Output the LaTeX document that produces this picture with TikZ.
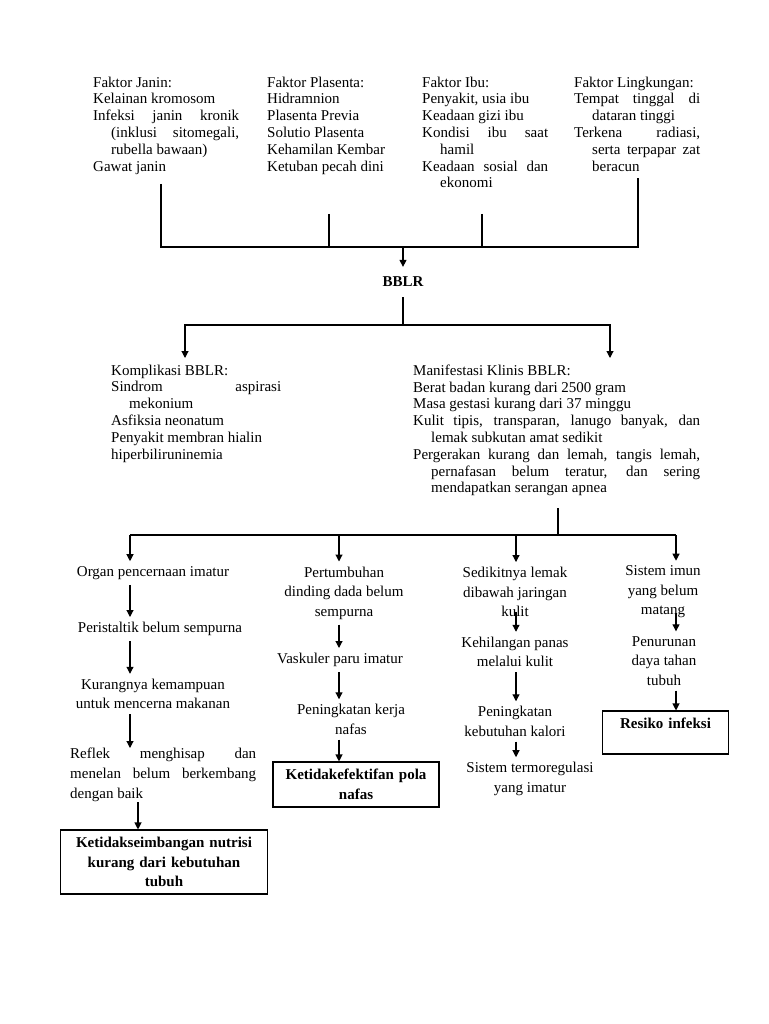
\documentclass[tikz,border=0pt]{standalone}
\usepackage{fontspec}
\setmainfont{Liberation Serif}
\usetikzlibrary{arrows.meta}
\setlength{\parindent}{0pt}
\hbadness=10000
\newcommand{\butir}[1]{\par\hangindent=18pt\hangafter=1 #1\par}

\begin{document}
\begin{tikzpicture}[x=1pt,y=-1pt,
    garis/.style={line width=1.1pt},
    panah/.style={line width=1.1pt,-{Triangle[length=7pt,width=7pt]}},
    blok/.style={anchor=north west,inner sep=0pt,text width=#1,align=justify,
      font=\fontsize{15}{16.8}\selectfont},
    teks/.style={align=center,inner xsep=2pt,inner ysep=5pt,
      font=\fontsize{15}{19.5}\selectfont},
    kotak/.style={draw,line width=1.1pt,align=center,inner sep=3pt,text width=#1,
      font=\fontsize{15}{19.5}\selectfont\bfseries}]
\useasboundingbox (0,0) rectangle (768,1024);

% faktor penyebab
\node[blok=146pt] (janin) at (93,76.5) {Faktor Janin:\butir{Kelainan kromosom}\butir{Infeksi janin kronik\linebreak (inklusi sitomegali,\linebreak rubella bawaan)}\butir{Gawat janin}};
\node[blok=125pt] (plasenta) at (267,76.5) {Faktor Plasenta:\butir{Hidramnion}\butir{Plasenta Previa}\butir{Solutio Plasenta}\butir{Kehamilan Kembar}\butir{Ketuban pecah dini}};
\node[blok=126pt] (ibu) at (422,76.5) {Faktor Ibu:\butir{Penyakit, usia ibu}\butir{Keadaan gizi ibu}\butir{Kondisi ibu saat\linebreak hamil}\butir{Keadaan sosial dan\linebreak ekonomi}};
\node[blok=126pt] (lingkungan) at (574,76.5) {Faktor Lingkungan:\butir{Tempat tinggal di\linebreak dataran tinggi}\butir{Terkena radiasi,\linebreak serta terpapar zat\linebreak beracun}};

\node[font=\fontsize{15}{18}\selectfont\bfseries,inner ysep=10pt] (bblr) at (403,282) {BBLR};

% komplikasi dan manifestasi
\node[blok=170pt] (komplikasi) at (111,364.5) {Komplikasi BBLR:\butir{Sindrom aspirasi\linebreak mekonium}\butir{Asfiksia neonatum}\butir{Penyakit membran hialin}\butir{hiperbiliruninemia}};
\node[blok=287pt] (manifestasi) at (413,364.5) {Manifestasi Klinis BBLR:\butir{Berat badan kurang dari 2500 gram}\butir{Masa gestasi kurang dari 37 minggu}\butir{Kulit tipis, transparan, lanugo banyak, dan\linebreak lemak subkutan amat sedikit}\butir{Pergerakan kurang dan lemah, tangis lemah,\linebreak pernafasan belum teratur, dan sering\linebreak mendapatkan serangan apnea}};

% kolom 1
\node[teks] (organ) at (153,573) {Organ pencernaan imatur};
\node[teks] (peristaltik) at (160,629) {Peristaltik belum sempurna};
\node[teks] (kurang) at (153,694) {Kurangnya kemampuan\\untuk mencerna makanan};
\node[blok=186pt,font=\fontsize{15}{20}\selectfont] (reflek) at (70,748) {Reflek menghisap dan\linebreak menelan belum berkembang\linebreak dengan baik};
\node[kotak=201pt,minimum height=64pt] (nutrisi) at (164,862) {Ketidakseimbangan nutrisi\\kurang dari kebutuhan\\tubuh};

% kolom 2
\node[teks] (tumbuh) at (344,593) {Pertumbuhan\\dinding dada belum\\sempurna};
\node[teks] (vaskuler) at (340,660) {Vaskuler paru imatur};
\node[teks] (kerja) at (351,719.5) {Peningkatan kerja\\nafas};
\node[kotak=160pt,minimum height=45pt] (pola) at (356,784.5) {Ketidakefektifan pola\\nafas};

% kolom 3
\node[teks] (lemak) at (515,592) {Sedikitnya lemak\\dibawah jaringan\\kulit};
\node[teks] (panas) at (515,652) {Kehilangan panas\\melalui kulit};
\node[teks] (kalori) at (515,721.5) {Peningkatan\\kebutuhan kalori};
\node[teks] (termo) at (530,779) {Sistem termoregulasi\\yang imatur};

% kolom 4
\node[teks] (imun) at (663,592) {Sistem imun\\yang belum\\matang};
\node[teks] (tahan) at (664,661) {Penurunan\\daya tahan\\tubuh};
\node[kotak=120pt,minimum height=43pt] (infeksi) at (665.5,732.5) {Resiko infeksi\\\mbox{}};

% garis atas
\coordinate (bar) at (403,247);
\coordinate (jt) at (161,184);
\coordinate (pt) at (329,214);
\coordinate (it) at (482,214);
\coordinate (lt) at (638,178);
\draw[garis] (jt) |- (bar) -| (lt);
\draw[garis] (pt) -- (pt |- bar);
\draw[garis] (it) -- (it |- bar);
\draw[panah] (bar) -- (bblr);

\coordinate (mid) at (403,325);
\coordinate (ka) at (185,358);
\coordinate (ma) at (610,358);
\draw[panah] (bblr) -- (mid) -| (ka);
\draw[panah] (bblr) -- (mid) -| (ma);

% garis bawah
\coordinate (mb) at (558,508);
\coordinate (bar2) at (558,535);
\coordinate (k1) at (130,535);
\coordinate (k2) at (339,535);
\coordinate (k3) at (516,535);
\coordinate (k4) at (676,535);
\draw[garis] (mb) -- (bar2);
\draw[garis] (k1) -- (k4);
\foreach \k/\n in {k1/organ,k2/tumbuh,k3/lemak,k4/imun}
  \draw[panah] (\k) -- (\k |- \n.north);

\draw[panah] (organ.south -| k1) -- (peristaltik.north -| k1);
\draw[panah] (peristaltik.south -| k1) -- (kurang.north -| k1);
\draw[panah] (kurang.south -| k1) -- (reflek.north -| k1);
\coordinate (k1b) at (138,0);
\draw[panah] (reflek.south -| k1b) -- (nutrisi.north -| k1b);

\draw[panah] (tumbuh.south -| k2) -- (vaskuler.north -| k2);
\draw[panah] (vaskuler.south -| k2) -- (kerja.north -| k2);
\draw[panah] (kerja.south -| k2) -- (pola.north -| k2);

\draw[panah,shorten <=-10pt] (lemak.south -| k3) -- (panas.north -| k3);
\draw[panah] (panas.south -| k3) -- (kalori.north -| k3);
\draw[panah] (kalori.south -| k3) -- (termo.north -| k3);

\draw[panah,shorten <=-10pt] (imun.south -| k4) -- (tahan.north -| k4);
\draw[panah] (tahan.south -| k4) -- (infeksi.north -| k4);
\end{tikzpicture}
\end{document}
